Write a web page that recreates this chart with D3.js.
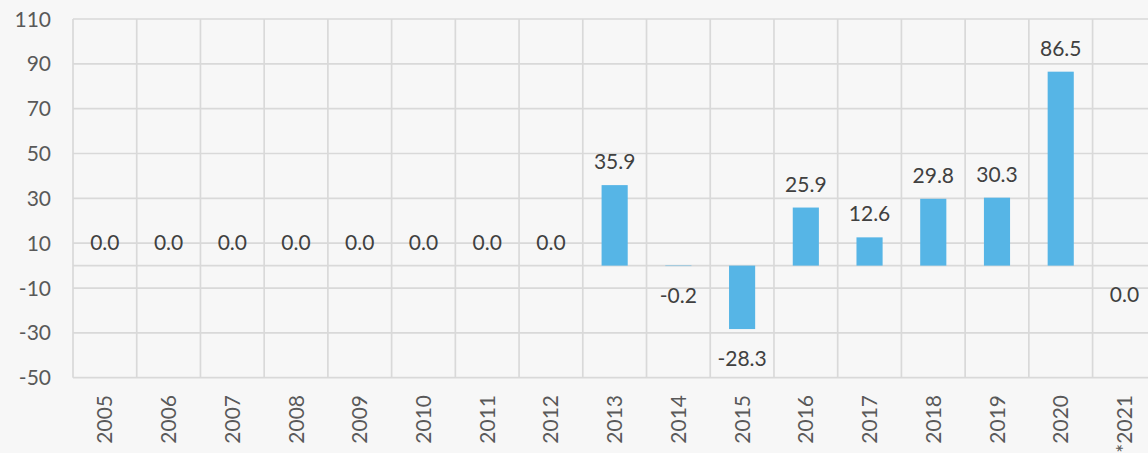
<!DOCTYPE html>
<html>
<head>
<meta charset="utf-8">
<script src="https://cdn.jsdelivr.net/npm/d3@7"></script>
<style>
  html, body { margin: 0; padding: 0; background: #f7f7f7; overflow: hidden; }
  svg { display: block; }
  text { font-family: Lato, "Open Sans", sans-serif; }
</style>
</head>
<body>
<svg id="chart" width="1148" height="453"></svg>
<script>
// Annual change, per year (2021 is preliminary; -0 marks a zero shown below the axis)
const years = ["2005", "2006", "2007", "2008", "2009", "2010", "2011", "2012", "2013",
               "2014", "2015", "2016", "2017", "2018", "2019", "2020", "*2021"];
const values = [0.0, 0.0, 0.0, 0.0, 0.0, 0.0, 0.0, 0.0, 35.9,
                -0.2, -28.3, 25.9, 12.6, 29.8, 30.3, 86.5, -0];
const yTicks = [110, 90, 70, 50, 30, 10, -10, -30, -50];

const svg = d3.select("#chart");
const margin = { top: 19, left: 73 };
const plotRight = 1156.3;

const x = d3.scaleBand()
  .domain(years)
  .range([margin.left, plotRight])
  .padding(0);

const y = d3.scaleLinear()
  .domain([-50, 110])
  .range([377.7, margin.top]);

const grid = "#d9d9d9";
const isNeg = v => v < 0 || Object.is(v, -0);

// horizontal gridlines
svg.append("g")
  .selectAll("line")
  .data(yTicks)
  .join("line")
  .attr("x1", margin.left).attr("x2", plotRight)
  .attr("y1", d => y(d)).attr("y2", d => y(d))
  .attr("stroke", grid).attr("stroke-width", 1.7);

// zero line
svg.append("line")
  .attr("x1", margin.left).attr("x2", plotRight)
  .attr("y1", y(0)).attr("y2", y(0))
  .attr("stroke", grid).attr("stroke-width", 1.7);

// vertical category separators
const bounds = years.map(d => x(d)).concat([x(years[years.length - 1]) + x.bandwidth()]);
svg.append("g")
  .selectAll("line")
  .data(bounds)
  .join("line")
  .attr("x1", d => d).attr("x2", d => d)
  .attr("y1", y(110)).attr("y2", y(-50))
  .attr("stroke", grid).attr("stroke-width", 1.7);

// y-axis labels
svg.append("g")
  .selectAll("text")
  .data(yTicks)
  .join("text")
  .attr("x", 51)
  .attr("y", d => y(d))
  .attr("dy", "0.36em")
  .attr("text-anchor", "end")
  .attr("font-size", 21)
  .attr("fill", "#595959")
  .text(d => d);

// x-axis labels, rotated
svg.append("g")
  .selectAll("text")
  .data(years)
  .join("text")
  .attr("transform", d => `translate(${x(d) + x.bandwidth() / 2},395) rotate(-90)`)
  .attr("dy", "0.36em")
  .attr("text-anchor", "end")
  .attr("font-size", 21)
  .attr("fill", "#595959")
  .text(d => d);

// bars
const barW = x.bandwidth() * 0.41;
const data = years.map((d, i) => ({ year: d, v: values[i] }));
svg.append("g")
  .selectAll("rect")
  .data(data.filter(d => d.v !== 0))
  .join("rect")
  .attr("x", d => x(d.year) + (x.bandwidth() - barW) / 2)
  .attr("y", d => y(Math.max(0, d.v)))
  .attr("width", barW)
  .attr("height", d => Math.abs(y(d.v) - y(0)))
  .attr("fill", "#56b5e6");

// value labels
svg.append("g")
  .selectAll("text")
  .data(data)
  .join("text")
  .attr("x", d => x(d.year) + x.bandwidth() / 2)
  .attr("y", d => isNeg(d.v) ? y(Math.min(0, d.v)) + 36.5 : y(Math.max(0, d.v)) - 16)
  .attr("text-anchor", "middle")
  .attr("font-size", 21)
  .attr("fill", "#404040")
  .text(d => d.v.toFixed(1));
</script>
</body>
</html>
